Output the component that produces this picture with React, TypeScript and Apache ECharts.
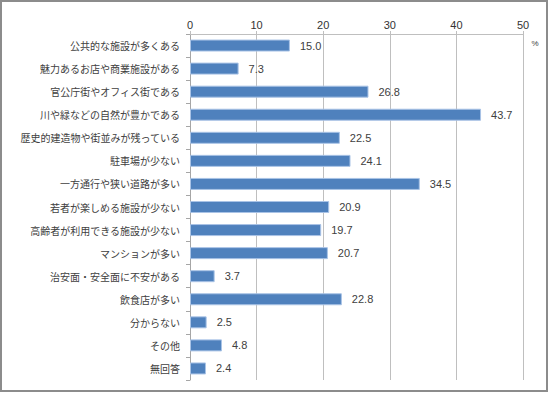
import React, { useEffect, useRef } from "react";
import * as echarts from "echarts";

const categories = [
  "公共的な施設が多くある",
  "魅力あるお店や商業施設がある",
  "官公庁街やオフィス街である",
  "川や緑などの自然が豊かである",
  "歴史的建造物や街並みが残っている",
  "駐車場が少ない",
  "一方通行や狭い道路が多い",
  "若者が楽しめる施設が少ない",
  "高齢者が利用できる施設が少ない",
  "マンションが多い",
  "治安面・安全面に不安がある",
  "飲食店が多い",
  "分からない",
  "その他",
  "無回答",
];
const values = [15.0, 7.3, 26.8, 43.7, 22.5, 24.1, 34.5, 20.9, 19.7, 20.7, 3.7, 22.8, 2.5, 4.8, 2.4];
const xTicks = [0, 10, 20, 30, 40, 50];
const unitLabel = "%";

export default function App() {
  const ref = useRef<HTMLDivElement>(null);
  useEffect(() => {
    if (!ref.current) return;
    const chart = echarts.init(ref.current, null, { renderer: "svg" });
    const font = "'Noto Sans CJK JP', sans-serif";
    chart.setOption({
      animation: false,
      textStyle: { fontFamily: font },
      grid: { left: 190, right: 29, top: 34, bottom: 14 },
      xAxis: {
        type: "value",
        position: "top",
        min: xTicks[0],
        max: xTicks[xTicks.length - 1],
        interval: 10,
        axisLine: { show: true, lineStyle: { color: "#bfbfbf" } },
        axisTick: { show: true, length: 3, lineStyle: { color: "#bfbfbf" } },
        axisLabel: { color: "#333", fontSize: 11, margin: 4, fontFamily: "Arial, 'Liberation Sans', sans-serif" },
        splitLine: { show: true, lineStyle: { color: "#bfbfbf", width: 1 } },
      },
      yAxis: {
        type: "category",
        inverse: true,
        data: categories,
        axisLine: { show: true, lineStyle: { color: "#a6a6a6" } },
        axisTick: { show: true, length: 4, lineStyle: { color: "#a6a6a6" } },
        axisLabel: { color: "#404040", fontSize: 10, margin: 10, fontFamily: font },
      },
      series: [
        {
          type: "bar",
          data: values,
          barWidth: 12,
          itemStyle: { color: "#4f81bd", borderColor: "#a9c3e6", borderWidth: 1 },
          label: {
            show: true,
            position: "right",
            distance: 10,
            color: "#404040",
            fontSize: 11,
            fontFamily: "Arial, 'Liberation Sans', sans-serif",
            formatter: (p: any) => Number(p.value).toFixed(1),
          },
        },
      ],
      graphic: [
        {
          type: "rect",
          shape: { x: 1, y: 1, width: 546, height: 390 },
          style: { fill: "none", stroke: "#8c8c8c", lineWidth: 2 },
          silent: true,
        },
        {
          type: "text",
          x: 535,
          y: 43,
          style: { text: unitLabel, fill: "#404040", fontSize: 8, align: "center", verticalAlign: "middle", fontFamily: "Arial, sans-serif" },
        },
      ],
    });
    return () => chart.dispose();
  }, []);
  return (
    <div
      ref={ref}
      style={{ position: "fixed", left: 0, top: 0, width: 552, height: 394, background: "#fff" }}
    />
  );
}
